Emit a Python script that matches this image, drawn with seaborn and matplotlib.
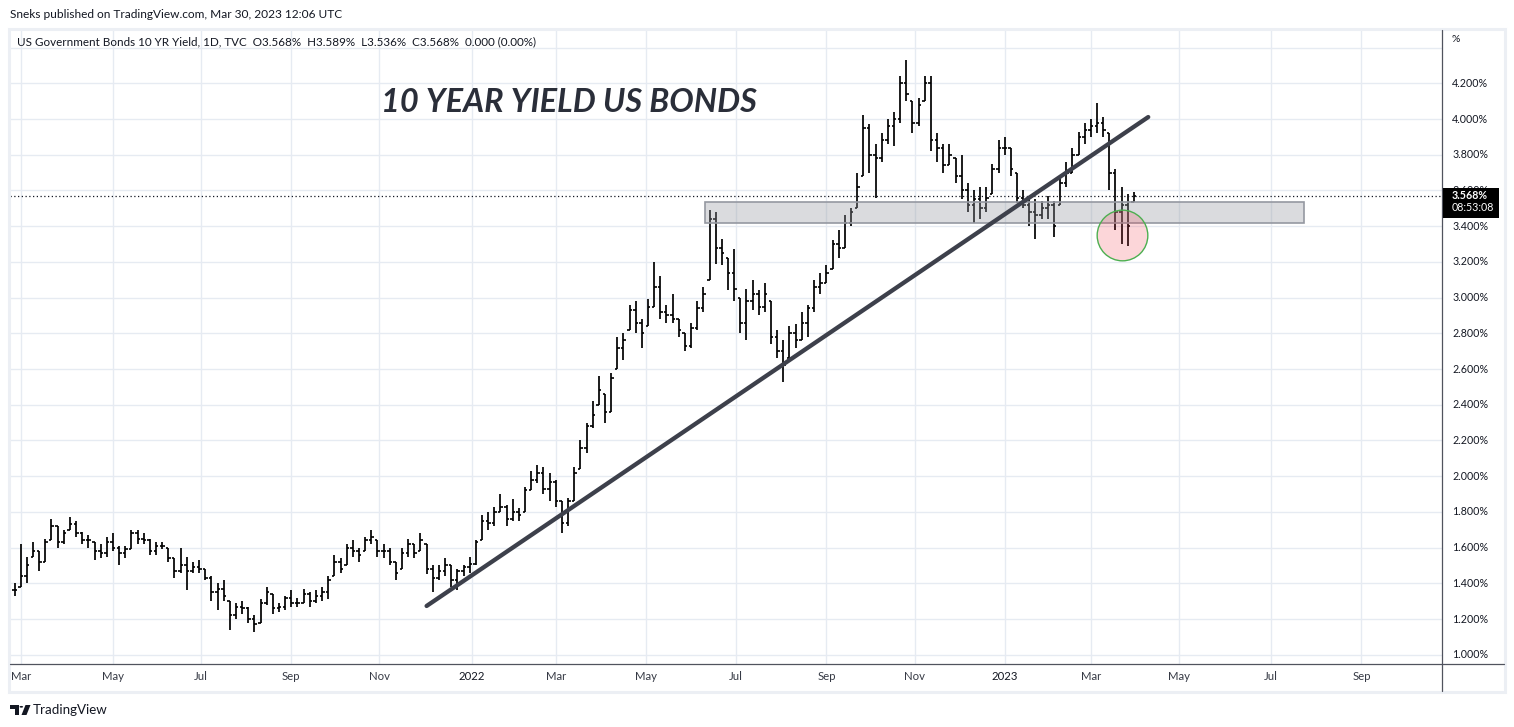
import numpy as np
import pandas as pd
import matplotlib
matplotlib.use("Agg")
import matplotlib.pyplot as plt
from matplotlib.patches import Rectangle, Polygon, Circle
from matplotlib.lines import Line2D
import seaborn as sns

bar_dates = pd.bdate_range("2021-02-24", "2023-03-30", freq="3B")

closes = [
    1.36, 1.44, 1.50, 1.58, 1.52, 1.63, 1.72, 1.63, 1.68, 1.73,
    1.68, 1.64, 1.64, 1.58, 1.57, 1.63, 1.60, 1.57, 1.59, 1.68,
    1.65, 1.64, 1.58, 1.61, 1.61, 1.54, 1.47, 1.50, 1.47, 1.49,
    1.48, 1.43, 1.35, 1.37, 1.33, 1.22, 1.27, 1.26, 1.20, 1.17,
    1.29, 1.35, 1.26, 1.27, 1.32, 1.29, 1.29, 1.34, 1.30, 1.33,
    1.35, 1.42, 1.52, 1.48, 1.60, 1.58, 1.56, 1.64, 1.66, 1.58,
    1.58, 1.52, 1.46, 1.57, 1.62, 1.57, 1.64, 1.48, 1.43, 1.47,
    1.50, 1.42, 1.47, 1.49, 1.51, 1.63, 1.75, 1.74, 1.80, 1.83,
    1.76, 1.80, 1.78, 1.92, 1.98, 2.02, 1.93, 1.97, 1.86, 1.74,
    1.86, 2.02, 2.16, 2.28, 2.34, 2.48, 2.36, 2.55, 2.72, 2.76,
    2.93, 2.86, 2.80, 2.95, 3.06, 2.92, 2.90, 2.88, 2.82, 2.73,
    2.83, 2.94, 3.02, 3.44, 3.28, 3.25, 3.14, 3.05, 2.86, 2.98,
    3.02, 2.95, 3.02, 2.78, 2.70, 2.62, 2.80, 2.76, 2.86, 2.94,
    3.06, 3.08, 3.14, 3.30, 3.28, 3.42, 3.48, 3.62, 3.95, 3.80,
    3.78, 3.88, 3.96, 4.00, 4.20, 4.14, 3.98, 4.08, 4.20, 3.88,
    3.84, 3.74, 3.80, 3.68, 3.60, 3.52, 3.55, 3.50, 3.56, 3.72,
    3.84, 3.84, 3.72, 3.56, 3.52, 3.48, 3.46, 3.50, 3.52, 3.40,
    3.64, 3.70, 3.80, 3.90, 3.94, 3.96, 3.98, 3.94, 3.70, 3.48,
    3.52, 3.40, 3.568,
]
highs = [
    1.40, 1.62, 1.55, 1.63, 1.58, 1.65, 1.76, 1.72, 1.70, 1.77,
    1.75, 1.69, 1.67, 1.63, 1.62, 1.66, 1.68, 1.61, 1.61, 1.70,
    1.70, 1.68, 1.65, 1.63, 1.63, 1.60, 1.54, 1.60, 1.55, 1.52,
    1.53, 1.48, 1.44, 1.40, 1.42, 1.30, 1.29, 1.30, 1.27, 1.22,
    1.31, 1.38, 1.34, 1.29, 1.33, 1.36, 1.32, 1.37, 1.35, 1.36,
    1.38, 1.44, 1.56, 1.54, 1.62, 1.64, 1.60, 1.66, 1.70, 1.64,
    1.62, 1.60, 1.52, 1.60, 1.65, 1.62, 1.68, 1.62, 1.50, 1.50,
    1.54, 1.50, 1.48, 1.50, 1.55, 1.64, 1.78, 1.80, 1.83, 1.90,
    1.84, 1.87, 1.82, 1.94, 2.03, 2.06, 2.05, 2.02, 1.98, 1.86,
    1.88, 2.05, 2.20, 2.30, 2.42, 2.56, 2.46, 2.58, 2.78, 2.80,
    2.96, 2.98, 2.88, 2.99, 3.20, 3.12, 2.96, 3.02, 2.88, 2.80,
    2.86, 2.98, 3.06, 3.49, 3.48, 3.33, 3.22, 3.27, 3.00, 3.05,
    3.10, 3.04, 3.08, 2.98, 2.82, 2.76, 2.84, 2.85, 2.92, 2.96,
    3.10, 3.14, 3.18, 3.32, 3.38, 3.46, 3.50, 3.70, 4.02, 3.97,
    3.86, 3.92, 4.00, 4.04, 4.24, 4.33, 4.10, 4.12, 4.24, 4.24,
    3.92, 3.86, 3.86, 3.78, 3.80, 3.64, 3.60, 3.62, 3.62, 3.75,
    3.88, 3.90, 3.84, 3.70, 3.60, 3.56, 3.55, 3.54, 3.57, 3.54,
    3.68, 3.76, 3.84, 3.93, 3.98, 4.00, 4.09, 4.01, 3.92, 3.72,
    3.62, 3.58, 3.589,
]
lows = [
    1.33, 1.38, 1.40, 1.55, 1.47, 1.52, 1.64, 1.60, 1.62, 1.70,
    1.66, 1.62, 1.60, 1.53, 1.54, 1.55, 1.58, 1.50, 1.54, 1.59,
    1.62, 1.62, 1.56, 1.56, 1.59, 1.52, 1.43, 1.46, 1.36, 1.46,
    1.46, 1.42, 1.30, 1.25, 1.30, 1.14, 1.20, 1.23, 1.18, 1.13,
    1.18, 1.28, 1.23, 1.24, 1.25, 1.27, 1.27, 1.29, 1.27, 1.29,
    1.30, 1.31, 1.44, 1.46, 1.50, 1.55, 1.52, 1.58, 1.62, 1.55,
    1.54, 1.50, 1.42, 1.48, 1.55, 1.54, 1.58, 1.45, 1.35, 1.42,
    1.44, 1.38, 1.36, 1.44, 1.46, 1.50, 1.64, 1.70, 1.72, 1.80,
    1.72, 1.75, 1.75, 1.80, 1.92, 1.96, 1.90, 1.86, 1.83, 1.68,
    1.72, 1.86, 2.04, 2.13, 2.27, 2.40, 2.30, 2.36, 2.60, 2.65,
    2.82, 2.80, 2.72, 2.84, 2.95, 2.88, 2.86, 2.86, 2.78, 2.70,
    2.72, 2.82, 2.92, 3.10, 3.19, 3.18, 3.04, 2.98, 2.80, 2.76,
    2.93, 2.90, 2.92, 2.74, 2.66, 2.53, 2.66, 2.72, 2.76, 2.78,
    2.92, 3.02, 3.08, 3.16, 3.22, 3.28, 3.40, 3.50, 3.68, 3.70,
    3.56, 3.76, 3.86, 3.85, 3.98, 4.10, 3.92, 3.96, 4.10, 3.82,
    3.76, 3.70, 3.74, 3.64, 3.55, 3.48, 3.42, 3.44, 3.48, 3.58,
    3.70, 3.80, 3.68, 3.53, 3.50, 3.40, 3.33, 3.44, 3.44, 3.34,
    3.52, 3.62, 3.70, 3.80, 3.86, 3.90, 3.92, 3.90, 3.60, 3.38,
    3.30, 3.29, 3.536,
]

# drawings on the chart
trend_dates = ["2021-12-02", "2023-04-10"]
trend_yields = [1.273, 4.011]
zone_dates = ["2022-06-10", "2023-07-25"]
zone_yields = [3.416, 3.534]
dip_date = "2023-03-22"
dip_yield = 3.35

month_starts = pd.date_range("2021-03-01", "2023-09-01", freq="2MS")
month_labels = ["Mar", "May", "Jul", "Sep", "Nov", "2022", "Mar", "May", "Jul", "Sep",
                "Nov", "2023", "Mar", "May", "Jul", "Sep"]
price_ticks = [1.0, 1.2, 1.4, 1.6, 1.8, 2.0, 2.2, 2.4, 2.6, 2.8, 3.0, 3.2, 3.4, 3.6,
               3.8, 4.0, 4.2, 4.4]
price_labels = ["1.000%", "1.200%", "1.400%", "1.600%", "1.800%", "2.000%", "2.200%",
                "2.400%", "2.600%", "2.800%", "3.000%", "3.200%", "3.400%", "3.600%",
                "3.800%", "4.000%", "4.200%", ""]

sns.set_theme(style="white")
plt.rcParams["font.family"] = ["Lato", "DejaVu Sans"]

W, H = 1514, 727
fig = plt.figure(figsize=(W / 100, H / 100), dpi=100)
fig.patch.set_facecolor("white")


def fx(x):
    return x / W


def fy(y):
    return 1 - y / H


# plot area in pixels: x 10..1442, y 30..664
ax = fig.add_axes([fx(10), fy(664), (1442 - 10) / W, (664 - 30) / H])
ax.set_facecolor("white")
for s in ax.spines.values():
    s.set_visible(False)

# trading-day axis like TradingView (no weekend gaps)
days = pd.bdate_range("2021-02-22", "2023-12-29")


def pos(d):
    return days.searchsorted(pd.to_datetime(d))


bx = pos(bar_dates)
c = np.array(closes)
hi = np.array(highs)
lo = np.array(lows)
op = np.clip(np.r_[c[0], c[:-1]], lo, hi)

grid_col = "#e6ebf2"
tick_pos = pos(month_starts)
for t in tick_pos:
    ax.axvline(t, color=grid_col, lw=1, zorder=0)
for p in price_ticks:
    ax.axhline(p, color=grid_col, lw=1, zorder=0)

bar_col = "#000000"
ax.vlines(bx, lo, hi, color=bar_col, lw=1.25, zorder=2)
ax.hlines(op, bx - 1.2, bx, color=bar_col, lw=1.2, zorder=2)
ax.hlines(c, bx, bx + 1.2, color=bar_col, lw=1.2, zorder=2)

# last price dotted line
ax.axhline(c[-1], color="#131722", lw=0.9, ls=(0, (1, 2)), zorder=2.5)

# support zone
z0, z1 = pos(zone_dates)
ax.add_patch(Rectangle((z0, zone_yields[0]), z1 - z0, zone_yields[1] - zone_yields[0],
                       facecolor=(0.584, 0.596, 0.631, 0.35), edgecolor="#9598a1",
                       lw=1.2, zorder=3))

# trend line
trend = pd.DataFrame({"x": pos(trend_dates), "y": trend_yields})
sns.lineplot(data=trend, x="x", y="y", ax=ax, color="#3d404b", lw=3.1,
             solid_capstyle="round", zorder=4)

# circle around the March dip
dip = pd.DataFrame({"x": [pos(dip_date)], "y": [dip_yield]})
sns.scatterplot(data=dip, x="x", y="y", ax=ax, s=1330, marker="o",
                color=(0.949, 0.212, 0.271, 0.2), edgecolor="#4caf50", linewidth=1.0,
                zorder=3.5)

ax.set_xlim(-0.22, 698.3)
ax.set_ylim(0.948, 4.4985)
ax.set_xticks([])
ax.set_yticks([])
ax.set_xlabel("")
ax.set_ylabel("")

# time axis labels
xt = ax.get_xaxis_transform()
for t, lab in zip(tick_pos, month_labels):
    is_year = lab.isdigit()
    ax.text(t, -0.0205, lab, transform=xt, ha="center", va="center", fontsize=8.2,
            color="#131722" if is_year else "#363a45", clip_on=False)

# price scale labels (3.600% sits under the last price tag, as on the original)
yt = ax.get_yaxis_transform()
for p, lab in zip(price_ticks, price_labels):
    ax.text(1.007, p, lab, transform=yt, ha="left", va="center", fontsize=7.7,
            color="#131722", clip_on=False)
fig.text(fx(1452), fy(40), "%", fontsize=7.5, color="#131722", va="center", ha="left")

# last price tag
fig.patches.append(Rectangle((fx(1442.5), fy(217.7)), (1499 - 1442.5) / W, (217.7 - 188.3) / H,
                             transform=fig.transFigure, facecolor="#000000", edgecolor="none",
                             zorder=5))
fig.text(fx(1452), fy(195.5), "3.568%", fontsize=7.7, fontweight="bold", color="white",
         va="center", ha="left", zorder=6)
fig.text(fx(1452), fy(207.5), "08:53:08", fontsize=7.7, color="white",
         va="center", ha="left", zorder=6)

# panel frame, axis separators
fig.patches.append(Rectangle((fx(9), fy(692)), (1505 - 9) / W, (692 - 29) / H,
                             transform=fig.transFigure, facecolor="none",
                             edgecolor="#eceff4", lw=2.2, zorder=1))
fig.lines.append(Line2D([fx(1442), fx(1442)], [fy(30), fy(691)], transform=fig.transFigure,
                        color="#50535e", lw=0.9))
fig.lines.append(Line2D([fx(10), fx(1504)], [fy(664), fy(664)], transform=fig.transFigure,
                        color="#50535e", lw=0.9))

# headers
fig.text(fx(10), fy(14), "Sneks published on TradingView.com, Mar 30, 2023 12:06 UTC",
         fontsize=8.6, color="#131722", va="center", ha="left")
fig.text(fx(17), fy(42),
         "US Government Bonds 10 YR Yield, 1D, TVC  O3.568%  H3.589%  L3.536%  C3.568%  0.000 (0.00%)",
         fontsize=8.4, color="#131722", va="center", ha="left")
fig.text(fx(381), fy(111.7), "10 YEAR YIELD US BONDS", fontsize=23.4, fontweight="bold",
         fontstyle="italic", color="#2a2e39", va="baseline", ha="left")

# TradingView footer logo
logo = "#131722"
fig.patches.append(Polygon([(fx(10), fy(705)), (fx(18.5), fy(705)), (fx(18.5), fy(715)),
                            (fx(15), fy(715)), (fx(15), fy(708.5)), (fx(10), fy(708.5))],
                           closed=True, transform=fig.transFigure, facecolor=logo,
                           edgecolor="none"))
fig.patches.append(Circle((fx(21.3), fy(706.8)), 1.8 / W, transform=fig.transFigure,
                          facecolor=logo, edgecolor="none"))
fig.patches.append(Polygon([(fx(25.5), fy(705)), (fx(30.5), fy(705)), (fx(26.5), fy(715)),
                            (fx(21.5), fy(715))], closed=True, transform=fig.transFigure,
                           facecolor=logo, edgecolor="none"))
fig.text(fx(33), fy(710), "TradingView", fontsize=9.6, color="#131722", va="center", ha="left")

fig.savefig("out.png", dpi=100, facecolor="white")
